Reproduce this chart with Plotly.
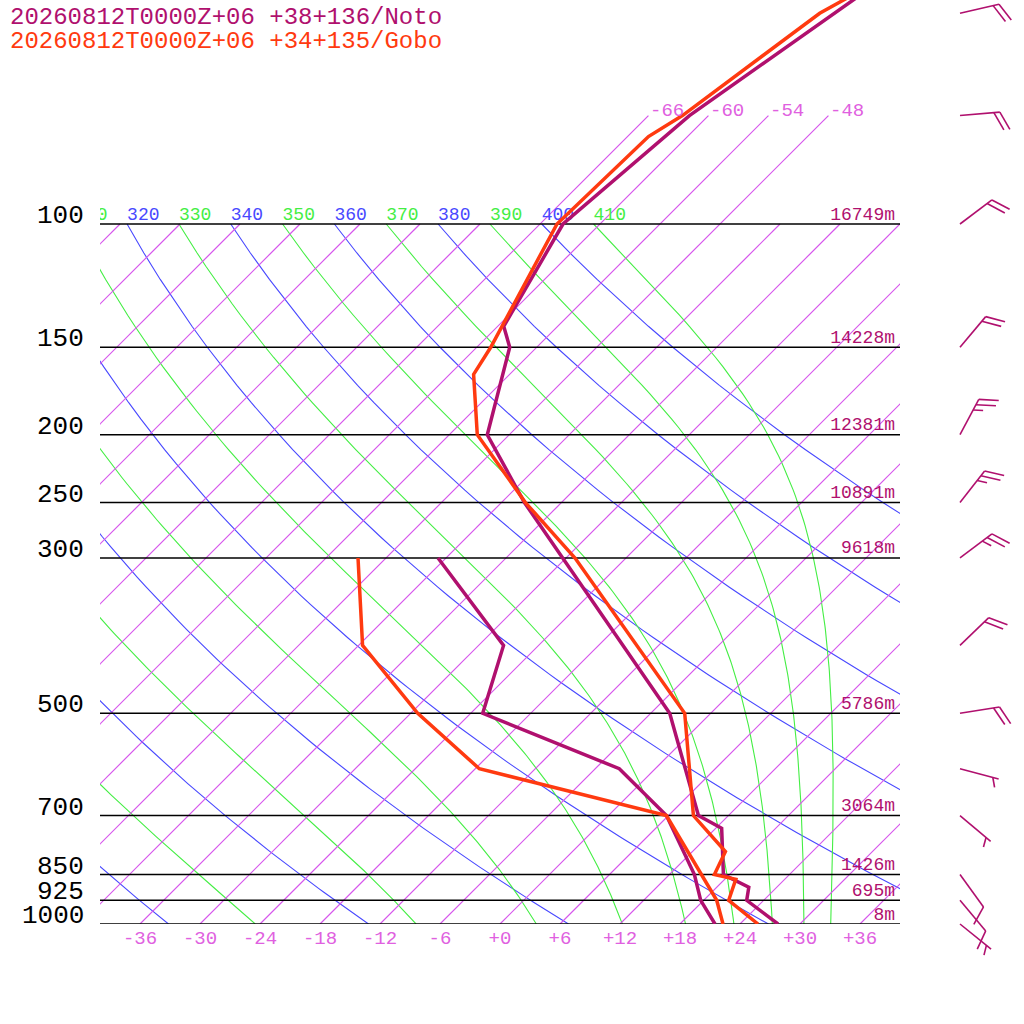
import numpy as np
import plotly.graph_objects as go

# ---- sounding data (hPa, degC)
noto_p = [1000, 925, 886, 850, 730, 700, 500, 300, 250, 200, 150, 140, 100, 70, 50, 40]
noto_t = [27.8, 22.3, 21.2, 17.4, 12.6, 9.0, -4.1, -30.3, -39.7, -50.2, -56.7, -59.4, -63.7, -61.9, -57.6, -54.8]
noto_td_p = [1000, 925, 850, 700, 600, 500, 400, 300]
noto_td = [21.5, 17.7, 14.5, 5.8, -3.6, -22.8, -27.5, -42.8]

gobo_p = [1000, 925, 863, 850, 788, 700, 500, 300, 250, 200, 164, 150, 100, 75, 70, 50, 40]
gobo_t = [25.8, 20.5, 19.1, 16.5, 15.3, 8.5, -2.6, -29.1, -39.6, -51.2, -57.6, -58.6, -64.3, -63.9, -62.6, -59.1, -53.7]
gobo_td_p = [1000, 925, 700, 600, 500, 400, 300]
gobo_td = [22.3, 19.3, 5.8, -17.6, -29.3, -41.6, -50.8]

# winds (Noto): direction wind blows from (deg), speed (kt)
wind_p = [50, 70, 100, 150, 200, 250, 300, 400, 500, 600, 700, 850, 925, 1000]
wind_dir = [77, 85, 53, 40, 28, 38, 53, 46, 81, 105, 130, 144, 140, 129]
wind_spd = [20, 20, 20, 20, 25, 25, 25, 20, 20, 5, 5, 10, 10, 5]

# standard levels with geopotential heights
levels = [100, 150, 200, 250, 300, 500, 700, 850, 925, 1000]
heights = ["16749m", "14228m", "12381m", "10891m", "9618m", "5786m", "3064m", "1426m", "695m", "8m"]

titles = ["20260812T0000Z+06 +38+136/Noto", "20260812T0000Z+06 +34+135/Gobo"]

isotherms = list(range(-114, 37, 6))
isotherm_labels = [-66, -60, -54, -48]
dry_thetas = list(range(240, 401, 20))
moist_thetas = list(range(250, 411, 20))
xticks = list(range(-36, 37, 6))

NOTO = "#b0106e"
GOBO = "#ff3a10"
ISO = "#d656ec"
ISO_TXT = "#e060e0"
BLUE = "#4848ff"
GREEN = "#44ee44"
FONT = "Liberation Mono"

SKEW = 700 / np.log(10) / 10   # 45 deg skew: 10 px per degC, 700 px per decade
KAPPA = 287.04 / 1005.7


def skew_x(t, p):
    return np.asarray(t, float) + SKEW * np.log(1000.0 / np.asarray(p, float))


def moist_adiabat(theta):
    rd, cp, lv, eps = 287.04, 1005.7, 2.501e6, 0.622

    def dtdp(p, t):
        es = 6.112 * np.exp(17.67 * (t - 273.15) / (t - 29.65))
        rs = eps * es / (p - es)
        return (rd * t + lv * rs) / (cp + lv * lv * rs * eps / (rd * t * t)) / p

    p, t, dp = 100.0, theta * 0.1 ** KAPPA, 2.5
    ps, ts = [p], [t]
    while p < 1000 - 1e-6:
        k1 = dtdp(p, t)
        k2 = dtdp(p + dp / 2, t + dp / 2 * k1)
        k3 = dtdp(p + dp / 2, t + dp / 2 * k2)
        k4 = dtdp(p + dp, t + dp * k3)
        t += dp / 6 * (k1 + 2 * k2 + 2 * k3 + k4)
        p += dp
        ps.append(p)
        ts.append(t)
    return np.array(ps), np.array(ts) - 273.15


fig = go.Figure()


def add_lines(segs, color, width):
    xs, ys = [], []
    for x, y in segs:
        xs += [float(v) for v in x] + [None]
        ys += [float(v) for v in y] + [None]
    fig.add_trace(go.Scatter(x=xs, y=ys, mode="lines", line=dict(color=color, width=width),
                             hoverinfo="skip"))


# dry adiabats
pp = np.linspace(100, 1000, 91)
add_lines([(skew_x(th * (pp / 1000) ** KAPPA - 273.15, pp), pp) for th in dry_thetas], BLUE, 1.1)

# moist adiabats
moist_segs = []
for th in moist_thetas:
    mp, mt = moist_adiabat(th)
    moist_segs.append((skew_x(mt[::2], mp[::2]), mp[::2]))
add_lines(moist_segs, GREEN, 1.1)

# isotherms
iso_segs = []
for t in isotherms:
    top = 70 if t in isotherm_labels else 100
    iso_segs.append((skew_x([t, t], [1000, top]), [1000, top]))
add_lines(iso_segs, ISO, 1.2)

# pressure lines
add_lines([([-40, 40], [p, p]) for p in levels], "black", 1.5)

# adiabat labels along 100 hPa
for thetas, col in [(dry_thetas, BLUE), (moist_thetas, GREEN)]:
    fig.add_trace(go.Scatter(
        x=skew_x([th * 0.1 ** KAPPA - 273.15 for th in thetas], [100] * len(thetas)),
        y=[100] * len(thetas), mode="text", text=[str(th) for th in thetas],
        textposition="top right", textfont=dict(family=FONT, size=18, color=col),
        cliponaxis=True, hoverinfo="skip"))

# height labels
fig.add_trace(go.Scatter(
    x=[39.5] * len(levels), y=levels, mode="text", text=heights, textposition="top left",
    textfont=dict(family=FONT, size=18, color=NOTO), hoverinfo="skip"))

# soundings
for p, t, col in [(noto_td_p, noto_td, NOTO), (noto_p, noto_t, NOTO),
                  (gobo_td_p, gobo_td, GOBO), (gobo_p, gobo_t, GOBO)]:
    fig.add_trace(go.Scatter(x=skew_x(t, p), y=p, mode="lines",
                             line=dict(color=col, width=3.5), hoverinfo="skip"))


# wind barbs, drawn in pixel space on an overlay axis
def pix_y(p):
    return 924 - 700 * np.log10(1000.0 / p)


bx, by = [], []
for p, d, s in zip(wind_p, wind_dir, wind_spd):
    x0, y0 = 960.0, pix_y(p)
    r = np.radians(d)
    ux, uy = np.sin(r), -np.cos(r)
    tx, ty = x0 + 40 * ux, y0 + 40 * uy
    bx += [x0, tx, None]
    by += [y0, ty, None]
    a = np.radians(65)
    vx, vy = ux * np.cos(a) - uy * np.sin(a), ux * np.sin(a) + uy * np.cos(a)
    nfull, nhalf = int(s // 10), int(round((s % 10) / 5))
    k = 0
    for _ in range(nfull):
        sx, sy = tx - 6 * k * ux, ty - 6 * k * uy
        bx += [sx, sx + 20 * vx, None]
        by += [sy, sy + 20 * vy, None]
        k += 1
    if nhalf:
        k = max(k, 1)
        sx, sy = tx - 6 * k * ux, ty - 6 * k * uy
        bx += [sx, sx + 10 * vx, None]
        by += [sy, sy + 10 * vy, None]
fig.add_trace(go.Scatter(x=bx, y=by, mode="lines", line=dict(color=NOTO, width=1.6),
                         xaxis="x2", yaxis="y2", hoverinfo="skip"))

annotations = []
for p in levels:
    annotations.append(dict(x=-40, y=np.log10(p), xref="x", yref="y", text=str(p),
                            showarrow=False, xanchor="right", yanchor="middle",
                            xshift=-14, yshift=8, font=dict(family=FONT, size=26, color="black")))
for t in isotherm_labels:
    annotations.append(dict(x=float(skew_x(t, 70)), y=np.log10(70), xref="x", yref="y",
                            text=str(t), showarrow=False, xanchor="left", yanchor="middle",
                            yshift=5, font=dict(family=FONT, size=19, color=ISO_TXT)))
for i, (txt, col) in enumerate(zip(titles, [NOTO, GOBO])):
    annotations.append(dict(x=8 / 1024, y=1 - (17 + 24 * i) / 1024, xref="paper", yref="paper",
                            text=txt, showarrow=False, xanchor="left", yanchor="middle",
                            font=dict(family=FONT, size=24, color=col)))

fig.update_layout(
    width=1024, height=1024, margin=dict(l=0, r=0, t=0, b=0),
    paper_bgcolor="white", plot_bgcolor="rgba(0,0,0,0)", showlegend=False,
    xaxis=dict(domain=[100 / 1024, 900 / 1024], range=[-40, 40], tickvals=xticks,
               ticktext=[f"{v:+d}" for v in xticks], ticks="", showgrid=False, zeroline=False,
               showline=False, tickfont=dict(family=FONT, size=19, color=ISO_TXT)),
    yaxis=dict(domain=[100 / 1024, 1], type="log", range=[3, 3 - 924 / 700], showgrid=False,
               zeroline=False, showline=False, showticklabels=False, ticks=""),
    xaxis2=dict(domain=[0, 1], range=[0, 1024], visible=False, anchor="y2"),
    yaxis2=dict(domain=[0, 1], range=[1024, 0], visible=False, anchor="x2"),
    annotations=annotations,
)

# the page's default body margin would shift the figure by 8 px
fig.write_html("out.html", config={"displayModeBar": False},
               post_script="document.body.style.margin='0';")
